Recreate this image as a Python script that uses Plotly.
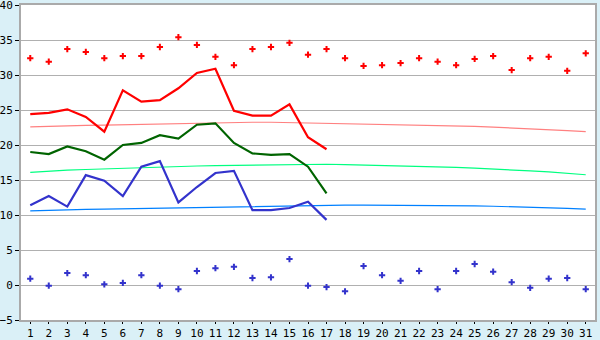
import plotly.graph_objects as go

days = list(range(1, 32))
day_labels = [str(d) for d in days]

max_pts = [32.4, 31.9, 33.7, 33.3, 32.4, 32.7, 32.7, 34.0, 35.4, 34.3,
           32.6, 31.4, 33.7, 34.0, 34.6, 32.9, 33.7, 32.4, 31.3, 31.4,
           31.7, 32.4, 31.9, 31.4, 32.3, 32.7, 30.7, 32.4, 32.6, 30.6, 33.1]
min_pts = [0.9, -0.1, 1.7, 1.4, 0.1, 0.3, 1.4, -0.1, -0.6, 2.0,
           2.4, 2.6, 1.0, 1.1, 3.7, -0.1, -0.3, -0.9, 2.7, 1.4,
           0.6, 2.0, -0.6, 2.0, 3.0, 1.9, 0.4, -0.4, 0.9, 1.0, -0.6]

cur_days = list(range(1, 18))
cur_max = [24.4, 24.6, 25.1, 24.0, 21.9, 27.8, 26.2, 26.4, 28.1, 30.3,
           30.9, 24.9, 24.2, 24.2, 25.8, 21.1, 19.4]
cur_mean = [19.0, 18.7, 19.8, 19.1, 17.9, 20.0, 20.3, 21.4, 20.9, 22.9,
            23.1, 20.3, 18.8, 18.6, 18.7, 16.9, 13.1]
cur_min = [11.4, 12.7, 11.2, 15.7, 14.9, 12.7, 16.9, 17.7, 11.8, 14.0,
           16.0, 16.3, 10.7, 10.7, 11.0, 11.9, 9.3]

norm_max = [22.6, 22.7, 22.75, 22.8, 22.85, 22.9, 22.95, 23.0, 23.05, 23.15,
            23.25, 23.25, 23.25, 23.25, 23.2, 23.2, 23.15, 23.1, 23.05, 23.0,
            22.95, 22.9, 22.85, 22.75, 22.65, 22.55, 22.45, 22.35, 22.2, 22.05, 21.9]
norm_mean = [16.1, 16.3, 16.4, 16.5, 16.6, 16.7, 16.8, 16.9, 17.0, 17.0,
             17.05, 17.1, 17.15, 17.2, 17.25, 17.25, 17.25, 17.2, 17.15, 17.0,
             16.95, 16.9, 16.85, 16.8, 16.7, 16.6, 16.45, 16.3, 16.15, 16.0, 15.75]
norm_min = [10.6, 10.7, 10.75, 10.8, 10.85, 10.9, 10.95, 11.0, 11.05, 11.1,
            11.15, 11.2, 11.25, 11.3, 11.35, 11.4, 11.4, 11.4, 11.4, 11.4,
            11.4, 11.4, 11.4, 11.35, 11.3, 11.25, 11.2, 11.15, 11.05, 10.95, 10.85]

fig = go.Figure()

def line(x, y, color, width):
    fig.add_trace(go.Scatter(x=x, y=y, mode="lines",
                             line=dict(color=color, width=width),
                             hoverinfo="skip", showlegend=False))

line(days, norm_max, "#ff8080", 1.2)
line(days, norm_mean, "#00ff80", 1.2)
line(days, norm_min, "#0080ff", 1.2)
line(cur_days, cur_max, "#ff0000", 2.2)
line(cur_days, cur_mean, "#006400", 2.2)
line(cur_days, cur_min, "#3333cc", 2.2)

fig.add_trace(go.Scatter(x=days, y=max_pts, mode="markers",
                         marker=dict(symbol="cross-thin", size=4.5,
                                     line=dict(width=2, color="#ff0000")),
                         showlegend=False))
fig.add_trace(go.Scatter(x=days, y=min_pts, mode="markers",
                         marker=dict(symbol="cross-thin", size=4.5,
                                     line=dict(width=2, color="#3333cc")),
                         showlegend=False))

font = dict(family="DejaVu Sans Mono", size=11, color="#000000")

fig.update_layout(
    width=600, height=340,
    margin=dict(l=21, r=5, t=5, b=20, autoexpand=False),
    paper_bgcolor="#daf0f7",
    plot_bgcolor="#ffffff",
    showlegend=False,
    font=font,
    xaxis=dict(range=[0.5, 31.5], tickmode="array", tickvals=days,
               ticktext=day_labels, ticks="outside", ticklen=2,
               tickcolor="#000000", showgrid=False, zeroline=False,
               showline=True, linecolor="#aaaaaa", linewidth=2, mirror=True,
               tickfont=font, fixedrange=True, automargin=False,
               ticklabeloverflow="allow"),
    yaxis=dict(range=[-5, 40], tickmode="array",
               tickvals=[-5, 0, 5, 10, 15, 20, 25, 30, 35, 40],
               ticks="outside", ticklen=4, tickcolor="#000000",
               showgrid=True, gridcolor="#b0b0b0", gridwidth=1,
               zeroline=True, zerolinecolor="#b0b0b0", zerolinewidth=1,
               showline=True, linecolor="#aaaaaa", linewidth=2, mirror=True,
               tickfont=font, fixedrange=True, automargin=False,
               ticklabeloverflow="allow"),
)

fig.write_html("out.html")
